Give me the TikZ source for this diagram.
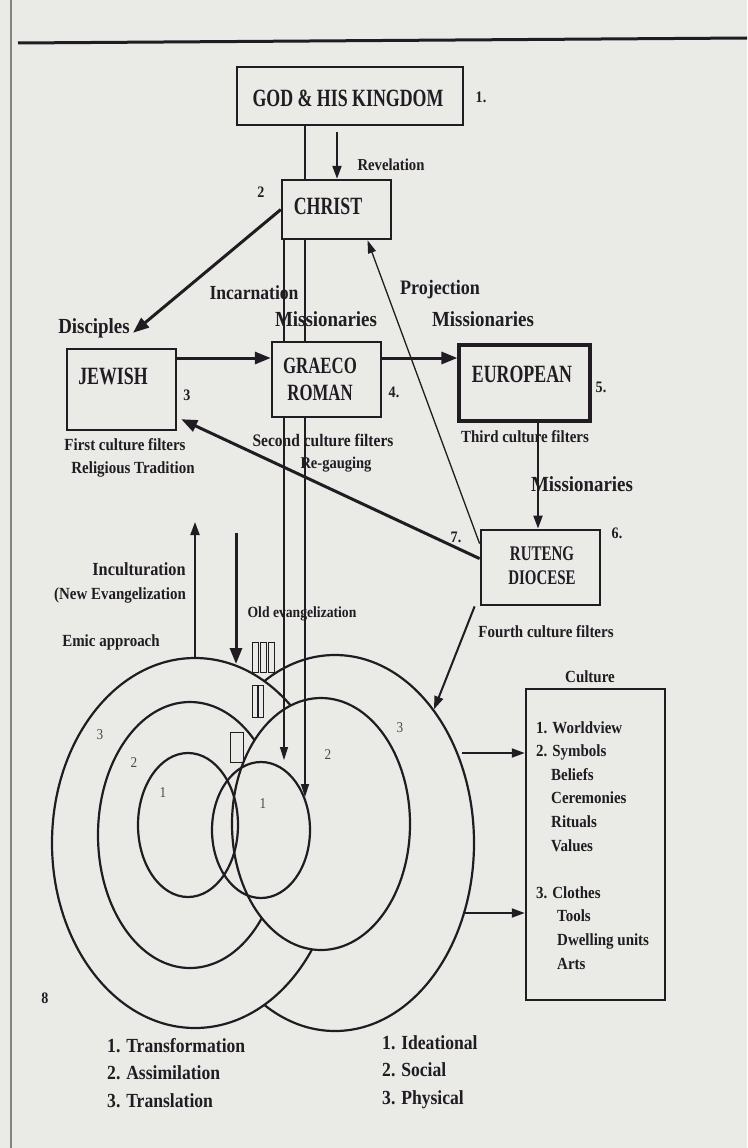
\documentclass[tikz,border=0pt]{standalone}
\usepackage{fontspec}
\setmainfont{Liberation Serif}
\newfontfamily\boxfont[FakeStretch=0.72]{Liberation Serif}
\newfontfamily\lblfont[FakeStretch=0.88]{Liberation Serif}
\usetikzlibrary{arrows.meta}
\usetikzlibrary{shapes.geometric}
\usetikzlibrary{backgrounds}
\definecolor{paper}{RGB}{234,234,231}
\definecolor{ink}{RGB}{32,28,34}
\tikzset{
	cbox/.style={rectangle, draw=ink, line width=2.4pt, fill=paper, inner sep=0pt},
	ctext/.style={font=\boxfont\bfseries\fontsize{24.8}{28}\selectfont, text=ink, align=center, inner sep=0pt},
	bigl/.style={font=\lblfont\bfseries\fontsize{21.5}{24}\selectfont, text=ink, inner sep=0pt},
	medl/.style={font=\lblfont\bfseries\fontsize{17}{20}\selectfont, text=ink, inner sep=0pt},
	smll/.style={font=\lblfont\bfseries\fontsize{16}{19}\selectfont, text=ink, inner sep=0pt},
	botl/.style={font=\lblfont\bfseries\fontsize{20}{27.5}\selectfont, text=ink, inner sep=0pt, align=left, anchor=north west},
	ringno/.style={font=\lblfont\fontsize{15}{18}\selectfont, text=ink!80, inner sep=0pt},
	ring/.style={ellipse, draw=ink, line width=2.2pt, inner sep=0pt},
	fat/.style={draw=ink, line width=3pt, -{Triangle[length=16pt,width=12pt]}},
	mid/.style={draw=ink, line width=2pt, -{Triangle[length=13pt,width=9pt]}},
	fine/.style={draw=ink, line width=1.3pt},
	finetip/.style={fine, -{Triangle[length=13pt,width=8pt]}},
	slot/.style={draw=ink, line width=1pt},
}

\begin{document}
\begin{tikzpicture}[x=1pt,y=-1pt]
	\useasboundingbox (0,0) rectangle (747,1148);
	
	% boxes
	\node[cbox, minimum width=226pt, minimum height=58pt] (god) at (350,96) {};
	\node[cbox, minimum width=109pt, minimum height=59pt] (christ) at (336.5,209.5) {};
	\node[cbox, minimum width=109pt, minimum height=81pt] (jewish) at (121.5,389.5) {};
	\node[cbox, minimum width=109pt, minimum height=75pt] (graeco) at (326.5,379.5) {};
	\node[cbox, line width=3.2pt, minimum width=131pt, minimum height=76pt] (european) at (524.5,383) {};
	\node[cbox, line width=2.8pt, minimum width=119pt, minimum height=75pt] (ruteng) at (540.5,567.5) {};
	\node[cbox, minimum width=139pt, minimum height=311pt] (culture) at (595.5,844.5) {};
	
	\node[ctext] (godtxt) at (348,98) {GOD \& HIS KINGDOM};
	\node[ctext] (christtxt) at (328,206) {CHRIST};
	\node[ctext] (jewishtxt) at (113,376) {JEWISH};
	\node[ctext, font=\boxfont\bfseries\fontsize{23.3}{27}\selectfont] (graecotxt) at (320,379) {GRAECO\\ROMAN};
	\node[ctext] (europeantxt) at (522,374) {EUROPEAN};
	\node[ctext, font=\boxfont\bfseries\fontsize{20.8}{24}\selectfont] (rutengtxt) at (542,566) {RUTENG\\DIOCESE};
	
	\begin{pgfonlayer}{background}
		\fill[paper] (0,0) rectangle (747,1148);
		\draw[ink, line width=3pt] (18,43) -- (747,38);
		\draw[ink!55, line width=1.5pt] (11,0) -- (11,1148);
		
		% the two sets of rings
		\node[ring, fill=paper, minimum width=278pt, minimum height=376pt] (r3) at (335,843) {};
		\node[ring, fill=paper, minimum width=286pt, minimum height=370pt] (l3) at (195,843) {};
		\node[ring, fill=paper, minimum width=184pt, minimum height=266pt] (l2) at (190,835) {};
		\node[ring, fill=paper, minimum width=178pt, minimum height=252pt] (r2) at (321,824) {};
		\node[ring, minimum width=100pt, minimum height=144pt] (l1) at (188,825) {};
		\node[ring, minimum width=98pt, minimum height=136pt] (r1) at (261,830) {};
		
		\coordinate (longend) at (305,797);
		\coordinate (shortend) at (284,760);
		\draw[finetip] (god.south -| longend) -- (longend);
		\draw[finetip] (christ.south -| shortend) -- (shortend);
		\draw[finetip] ([yshift=-15pt]ruteng.north west) -- ([xshift=31pt]christ.south);
	\end{pgfonlayer}
	
	\node[ringno] (l3no) at (100,735) {3};
	\node[ringno] (l2no) at (134,763) {2};
	\node[ringno] (l1no) at (163,793) {1};
	\node[ringno] (r1no) at (263,804) {1};
	\node[ringno] (r2no) at (328,755) {2};
	\node[ringno] (r3no) at (400,728) {3};
	
	\foreach \x in {252,260,268}
		\draw[slot] (\x,642) rectangle ++(6,30);
	\foreach \x in {252,258}
		\draw[slot] (\x,685) rectangle ++(5,32);
	\draw[slot] (230,732) rectangle ++(13,30);
	
	% arrows
	\coordinate (revtop) at (337,132);
	\draw[mid] (revtop) -- (revtop |- christ.north);
	\draw[fat] (christ.west) -- ([xshift=11.5pt,yshift=15pt]jewish.north);
	\coordinate (row) at (0,358);
	\draw[fat] (jewish.east |- row) -- (graeco.west |- row);
	\draw[fat] (graeco.east |- row) -- (european.west |- row);
	\coordinate (col) at (538,0);
	\draw[mid] (european.south -| col) -- (ruteng.north -| col);
	\draw[fat] ([yshift=-30pt]ruteng.north west) -- ([xshift=4pt,yshift=12pt]jewish.south east);
	\draw[mid] ([xshift=-5pt]ruteng.south west) -- (r3.north east);
	\coordinate (inctop) at (0,522);
	\draw[mid] (l3.north) -- (l3.north |- inctop);
	\coordinate (oldtop) at (236,533);
	\coordinate (oldend) at (236,664);
	\draw[fat] (oldtop) -- (oldend);
	\coordinate (symarr) at (462,753);
	\coordinate (matarr) at (464,913);
	\draw[mid] (symarr) -- (culture.west |- symarr);
	\draw[mid] (matarr) -- (culture.west |- matarr);
	
	% labels
	\node[smll] (no1) at (481,97) {1.};
	\node[smll] (no2) at (261,192) {2};
	\node[smll] (no3) at (187,395) {3};
	\node[smll] (no4) at (394,392) {4.};
	\node[smll] (no5) at (601,387) {5.};
	\node[smll] (no6) at (617,533) {6.};
	\node[smll] (no7) at (456,537) {7.};
	\node[smll] (no8) at (45,998) {8};
	
	\node[smll, font=\lblfont\bfseries\fontsize{16.7}{19}\selectfont] (revlbl) at (391,165) {Revelation};
	\node[bigl] (dislbl) at (94,328) {Disciples};
	\node[bigl, font=\lblfont\bfseries\fontsize{20}{24}\selectfont] (inclbl) at (254,293) {Incarnation};
	\node[bigl] (miss1) at (326,319) {Missionaries};
	\node[bigl, font=\lblfont\bfseries\fontsize{20.5}{24}\selectfont] (projlbl) at (440,290) {Projection};
	\node[bigl] (miss2) at (483,319) {Missionaries};
	\node[bigl] (miss3) at (582,484) {Missionaries};
	
	\node[medl] (filt1) at (125,445) {First culture filters};
	\node[medl] (reltrad) at (133,469) {Religious Tradition};
	\node[medl, font=\lblfont\bfseries\fontsize{17.6}{20}\selectfont] (filt2) at (323,440) {Second culture filters};
	\node[smll, font=\lblfont\bfseries\fontsize{16.5}{19}\selectfont] (regaug) at (336,465) {Re-gauging};
	\node[medl] (filt3) at (525,437) {Third culture filters};
	\node[medl] (filt4) at (546,632) {Fourth culture filters};
	\node[medl, font=\lblfont\bfseries\fontsize{18.5}{20}\selectfont] (incult) at (139,569) {Inculturation};
	\node[medl] (newev) at (120,595) {(New Evangelization};
	\node[medl] (emic) at (111,642) {Emic approach};
	\node[smll, font=\lblfont\bfseries\fontsize{15.5}{19}\selectfont] (oldev) at (302,614) {Old evangelization};
	\node[medl] (cultlbl) at (590,677) {Culture};
	
	\node[medl, align=left, anchor=north west, font=\lblfont\bfseries\fontsize{17}{23.6}\selectfont] (cultlist) at (536,721)
		{1. Worldview\\2. Symbols\\\hspace*{15pt}Beliefs\\\hspace*{15pt}Ceremonies\\\hspace*{15pt}Rituals\\\hspace*{15pt}Values\\[23.6pt]3. Clothes\\\hspace*{21pt}Tools\\\hspace*{21pt}Dwelling units\\\hspace*{21pt}Arts};
	
	\node[botl] (modes) at (107,1038) {1. Transformation\\2. Assimilation\\3. Translation};
	\node[botl] (levels) at (382,1035) {1. Ideational\\2. Social\\3. Physical};
\end{tikzpicture}
\end{document}
